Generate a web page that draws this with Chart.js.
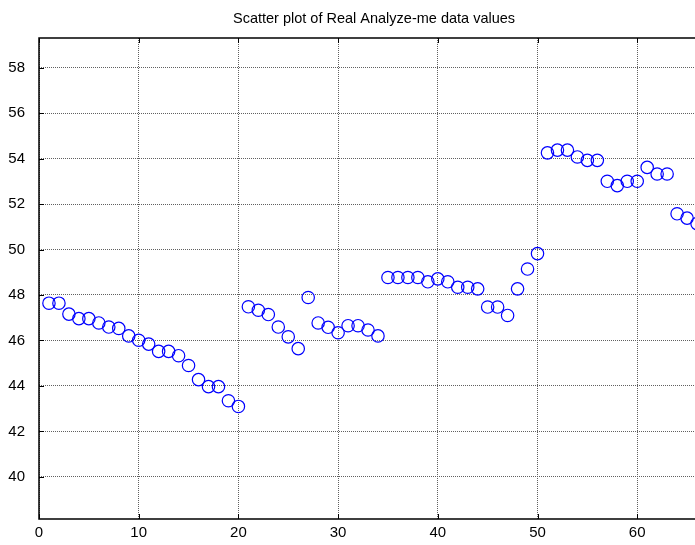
<!DOCTYPE html>
<html>
<head>
<meta charset="utf-8">
<script src="https://cdn.jsdelivr.net/npm/chart.js@4"></script>
<style>
  html, body { margin: 0; padding: 0; background: #fff; overflow: hidden; }
  #wrap { width: 720px; height: 545px; }
</style>
</head>
<body>
<div id="wrap"><canvas id="scatterChart" width="720" height="545"></canvas></div>
<script>
const sampleIndex = [
  1, 2, 3, 4, 5, 6, 7, 8, 9, 10, 11, 12, 13, 14, 15, 16, 17, 18, 19, 20, 21, 22,
  23, 24, 25, 26, 27, 28, 29, 30, 31, 32, 33, 34, 35, 36, 37, 38, 39, 40, 41, 42, 43, 44,
  45, 46, 47, 48, 49, 50, 51, 52, 53, 54, 55, 56, 57, 58, 59, 60, 61, 62, 63, 64, 65, 66
];
const dataValues = [
  47.64, 47.64, 47.16, 46.96, 46.96, 46.77, 46.59, 46.53, 46.20, 46.01, 45.84, 45.52,
  45.52, 45.33, 44.90, 44.28, 43.97, 43.97, 43.35, 43.10, 47.48, 47.33, 47.14, 46.59,
  46.16, 45.64, 47.89, 46.77, 46.58, 46.34, 46.65, 46.65, 46.46, 46.20, 48.77, 48.77,
  48.77, 48.77, 48.58, 48.71, 48.58, 48.34, 48.34, 48.27, 47.47, 47.47, 47.10, 48.27,
  49.14, 49.82, 54.25, 54.37, 54.37, 54.07, 53.92, 53.92, 53.00, 52.81, 53.00, 53.00,
  53.61, 53.32, 53.32, 51.57, 51.38, 51.14
];
const xTicks = [0, 10, 20, 30, 40, 50, 60];
const yTicks = [40, 42, 44, 46, 48, 50, 52, 54, 56, 58];
const titleText = 'Scatter plot of Real Analyze-me data values';

const FONT = 'Arial, "Liberation Sans", sans-serif';

// MATLAB style: title over the axes, box on three visible sides, ticks pointing inward
const matlabAxes = {
  id: 'matlabAxes',
  afterDraw(chart) {
    const { ctx, chartArea: a, scales } = chart;
    ctx.save();
    ctx.fillStyle = '#000';
    ctx.font = '14.5px ' + FONT;
    ctx.textAlign = 'center';
    ctx.textBaseline = 'middle';
    ctx.fillText(titleText, (a.left + a.right) / 2 + 1, 19);

    ctx.strokeStyle = '#000';
    ctx.lineWidth = 1.5;
    ctx.beginPath();
    ctx.moveTo(a.right, a.top);
    ctx.lineTo(a.left, a.top);
    ctx.lineTo(a.left, a.bottom);
    ctx.lineTo(a.right, a.bottom);
    ctx.stroke();

    ctx.lineWidth = 1;
    ctx.beginPath();
    for (const v of xTicks) {
      const x = Math.round(scales.x.getPixelForValue(v)) + 0.5;
      ctx.moveTo(x, a.bottom); ctx.lineTo(x, a.bottom - 5);
      ctx.moveTo(x, a.top); ctx.lineTo(x, a.top + 5);
    }
    for (const v of yTicks) {
      const y = Math.round(scales.y.getPixelForValue(v)) + 0.5;
      ctx.moveTo(a.left, y); ctx.lineTo(a.left + 5, y);
    }
    ctx.stroke();
    ctx.restore();
  }
};

// dotted grid lines like MATLAB's "grid on"
const gridStyle = { color: '#606060', lineWidth: 1, tickLength: 0, drawTicks: false };
const borderStyle = { display: false, dash: [1, 1] };

new Chart(document.getElementById('scatterChart'), {
  type: 'scatter',
  data: {
    datasets: [{
      data: sampleIndex.map((x, i) => ({ x, y: dataValues[i] })),
      pointStyle: 'circle',
      pointRadius: 6.2,
      pointHoverRadius: 6.2,
      pointBorderWidth: 1.2,
      borderColor: '#0000ff',
      backgroundColor: 'rgba(0,0,0,0)'
    }]
  },
  options: {
    responsive: false,
    animation: false,
    events: [],
    layout: { padding: { left: 0, top: 38, right: 13, bottom: 0 } },
    plugins: { legend: { display: false }, title: { display: false }, tooltip: { enabled: false } },
    scales: {
      x: {
        type: 'linear',
        min: 0,
        max: 67,
        afterBuildTicks: s => { s.ticks = xTicks.map(v => ({ value: v })); },
        afterFit: s => { s.height = 26; },
        border: borderStyle,
        grid: gridStyle,
        ticks: { color: '#000', font: { size: 15, family: FONT }, padding: 5, maxRotation: 0, autoSkip: false }
      },
      y: {
        type: 'linear',
        min: 38.15,
        max: 59.3,
        afterBuildTicks: s => { s.ticks = yTicks.map(v => ({ value: v })); },
        afterFit: s => { s.width = 39; },
        border: borderStyle,
        grid: gridStyle,
        ticks: { color: '#000', font: { size: 15, family: FONT }, padding: 14, autoSkip: false }
      }
    }
  },
  plugins: [matlabAxes]
});
</script>
</body>
</html>
